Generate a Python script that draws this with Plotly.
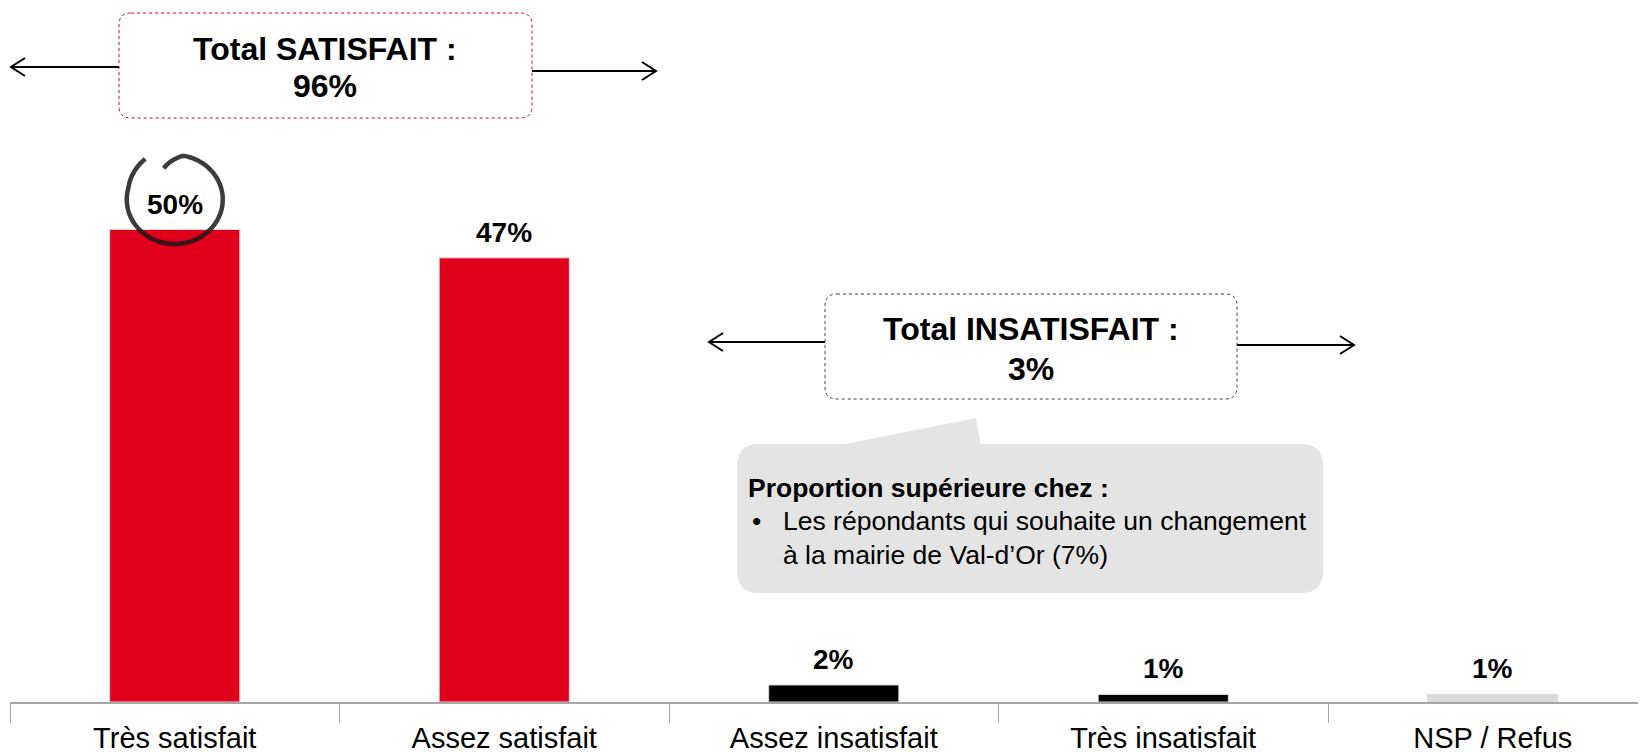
import numpy as np
import plotly.graph_objects as go

categories = ["Très satisfait", "Assez satisfait", "Assez insatisfait", "Très insatisfait", "NSP / Refus"]
values = [50, 47, 1.8, 0.8, 0.8]
value_labels = ["50%", "47%", "2%", "1%", "1%"]
bar_colors = ["#E0001B", "#E0001B", "#000000", "#000000", "#D9D9D9"]

total_satisfait = "96%"
total_insatisfait = "3%"
callout_title = "Proportion supérieure chez :"
callout_lines = ["Les répondants qui souhaite un changement", "à la mairie de Val-d’Or (7%)"]

W, H = 1646, 752
OFF = 8  # page body margin
AXIS_Y = 702  # page pixel of the baseline
L = 10 - OFF
B = H - (AXIS_Y - OFF)
PLOT_W, PLOT_H = W - L, H - B
FONT = "Liberation Sans, Arial, sans-serif"


def px(x):
    return (x - 10) / PLOT_W


def py(y):
    return (AXIS_Y - y) / PLOT_H


def rounded_rect(x0, y0, x1, y1, r):
    pts = [
        f"M {px(x0 + r)},{py(y0)}",
        f"L {px(x1 - r)},{py(y0)}",
        f"Q {px(x1)},{py(y0)} {px(x1)},{py(y0 + r)}",
        f"L {px(x1)},{py(y1 - r)}",
        f"Q {px(x1)},{py(y1)} {px(x1 - r)},{py(y1)}",
        f"L {px(x0 + r)},{py(y1)}",
        f"Q {px(x0)},{py(y1)} {px(x0)},{py(y1 - r)}",
        f"L {px(x0)},{py(y0 + r)}",
        f"Q {px(x0)},{py(y0)} {px(x0 + r)},{py(y0)}",
        "Z",
    ]
    return " ".join(pts)


def arrow(x_from, x_to, y, head=14, half=9):
    d = 1 if x_to > x_from else -1
    return (
        f"M {px(x_from)},{py(y)} L {px(x_to)},{py(y)} "
        f"M {px(x_to - d * head)},{py(y - half)} L {px(x_to)},{py(y)} L {px(x_to - d * head)},{py(y + half)}"
    )


fig = go.Figure()
fig.add_trace(
    go.Bar(
        x=categories,
        y=values,
        width=0.395,
        marker=dict(color=bar_colors, line=dict(color="#D9D9D9", width=1)),
        hoverinfo="skip",
    )
)

shapes = []
# Total SATISFAIT box + arrows
shapes.append(dict(type="path", xref="paper", yref="paper", path=rounded_rect(119, 13, 532, 118, 12),
                   fillcolor="white", line=dict(color="#E0001B", width=1, dash="dot")))
shapes.append(dict(type="path", xref="paper", yref="paper", path=arrow(119, 11, 67),
                   line=dict(color="black", width=2)))
shapes.append(dict(type="path", xref="paper", yref="paper", path=arrow(532, 656, 71),
                   line=dict(color="black", width=2)))
# Total INSATISFAIT box + arrows
shapes.append(dict(type="path", xref="paper", yref="paper", path=rounded_rect(825, 294, 1237, 399, 12),
                   fillcolor="white", line=dict(color="#404040", width=1, dash="dot")))
shapes.append(dict(type="path", xref="paper", yref="paper", path=arrow(825, 709, 342),
                   line=dict(color="black", width=2)))
shapes.append(dict(type="path", xref="paper", yref="paper", path=arrow(1237, 1354, 345),
                   line=dict(color="black", width=2)))
# callout bubble
shapes.append(dict(type="path", xref="paper", yref="paper", path=rounded_rect(737, 444, 1323, 593, 22),
                   fillcolor="#E4E4E4", line=dict(width=0)))
shapes.append(dict(type="path", xref="paper", yref="paper",
                   path=f"M {px(835)},{py(446)} L {px(976)},{py(418)} L {px(981)},{py(446)} Z",
                   fillcolor="#E4E4E4", line=dict(width=0)))

# hand-drawn circle around the first label, anchored on the first bar
deg = np.linspace(124, 468, 140)
rad = np.ones_like(deg)
rad = np.where(deg < 165, 1.1 - 0.1 * (deg - 124) / 41, rad)
rad = np.where(deg > 440, 1 - 0.26 * (deg - 440) / 28, rad)
theta = np.radians(deg)
cx, cy = 0, 30
xs = cx + 48 * rad * np.cos(theta)
ys = cy + 44.5 * rad * np.sin(theta)
circle_path = "M " + " L ".join(f"{a:.1f},{b:.1f}" for a, b in zip(xs, ys))
shapes.append(dict(type="path", xref="x", yref="y", xsizemode="pixel", ysizemode="pixel",
                   xanchor=categories[0], yanchor=values[0], path=circle_path,
                   line=dict(color="rgba(25,25,25,0.85)", width=4.5)))

annotations = []
for cat, val, lab in zip(categories, values, value_labels):
    annotations.append(dict(x=cat, y=val, text=f"<b>{lab}</b>", showarrow=False, yanchor="bottom",
                            yshift=8, font=dict(family=FONT, size=28, color="black")))


def text_at(x, y, text, size, bold=True, xanchor="center"):
    t = f"<b>{text}</b>" if bold else text
    annotations.append(dict(xref="paper", yref="paper", x=px(x), y=py(y), text=t, showarrow=False,
                            xanchor=xanchor, yanchor="middle", font=dict(family=FONT, size=size, color="black")))


text_at(325, 49, "Total SATISFAIT :", 32)
text_at(325, 86, total_satisfait, 32)
text_at(1031, 329, "Total INSATISFAIT :", 32)
text_at(1031, 369, total_insatisfait, 32)
text_at(746, 488, callout_title, 26.5, xanchor="left")
text_at(750, 521, "•", 26.5, bold=False, xanchor="left")
text_at(781, 521, callout_lines[0], 26.5, bold=False, xanchor="left")
text_at(781, 555, callout_lines[1], 26.5, bold=False, xanchor="left")

fig.update_layout(
    width=W,
    height=H,
    margin=dict(l=L, r=0, t=0, b=B),
    paper_bgcolor="white",
    plot_bgcolor="white",
    showlegend=False,
    shapes=shapes,
    annotations=annotations,
    font=dict(family=FONT, color="black"),
    xaxis=dict(
        type="category",
        range=[-0.5, -0.5 + PLOT_W / 329.5],
        automargin=False,
        showline=True,
        linecolor="#A6A6A6",
        linewidth=2,
        ticks="outside",
        tickson="boundaries",
        ticklen=19,
        tickcolor="#A6A6A6",
        tickwidth=1,
        ticklabelstandoff=9,
        tickfont=dict(family=FONT, size=29, color="black"),
        showgrid=False,
        zeroline=False,
    ),
    yaxis=dict(range=[0, PLOT_H / 9.45], visible=False, showgrid=False, zeroline=False),
)

fig.write_html("out.html")
